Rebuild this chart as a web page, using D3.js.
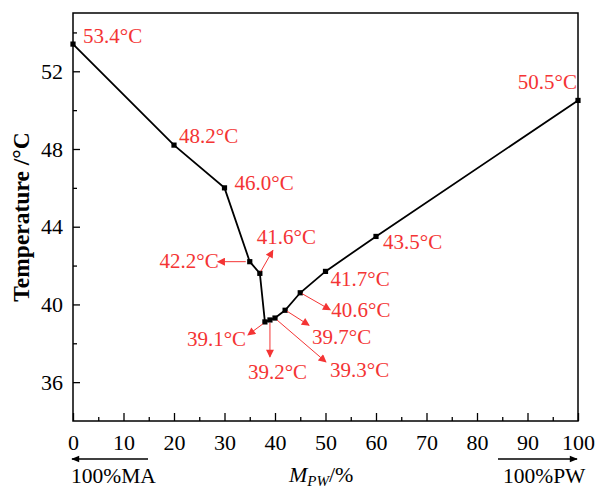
<!DOCTYPE html>
<html><head><meta charset="utf-8">
<script src="https://cdn.jsdelivr.net/npm/d3@7"></script>
<style>body{margin:0;background:#fff}svg{display:block}</style>
</head><body><svg id="c" width="598" height="490"></svg>
<script>
const mpw = [0, 20, 30, 35, 37, 38, 39, 40, 42, 45, 50, 60, 100];
const temp = [53.4, 48.2, 46.0, 42.2, 41.6, 39.1, 39.2, 39.3, 39.7, 40.6, 41.7, 43.5, 50.5];
const labels = ["53.4°C","48.2°C","46.0°C","42.2°C","41.6°C","39.1°C","39.2°C","39.3°C","39.7°C","40.6°C","41.7°C","43.5°C","50.5°C"];
const xTicks = [0,10,20,30,40,50,60,70,80,90,100];
const yTicks = [36,40,44,48,52];

// layout: text offset (dx,dy), anchor, optional arrow vector (ax,ay)
const lay = [
  {dx:10, dy:-1},
  {dx:5, dy:-2},
  {dx:10, dy:2},
  {dx:-31, dy:6, anchor:"end", a:[-4,0,-32,0]},
  {dx:-3, dy:-29, a:[1,-2,13,-23]},
  {dx:-78, dy:24, a:[-2,2,-17,13]},
  {dx:-22, dy:59, a:[0,3,0,37]},
  {dx:55, dy:59, a:[2,2,51,44]},
  {dx:27, dy:34, a:[2,1,24,15]},
  {dx:31, dy:24, a:[2,1,30,17]},
  {dx:5, dy:15},
  {dx:7, dy:13},
  {dx:-1, dy:-11, anchor:"end"}
];

const svg = d3.select("#c");
const L=73, R=578, T=13, B=421;
const x = d3.scaleLinear().domain([0,100]).range([L,R]);
const y = d3.scaleLinear().domain([34,55]).range([B,T]);
const font = "'Liberation Serif','Times New Roman',serif";
const red = "#f43434";

const defs = svg.append("defs");
defs.append("marker").attr("id","ah").attr("viewBox","0 0 10 10").attr("refX",9).attr("refY",5)
  .attr("markerWidth",9).attr("markerHeight",8).attr("markerUnits","userSpaceOnUse").attr("orient","auto")
  .append("path").attr("d","M0,0L10,5L0,10Z").attr("fill",red);
defs.append("marker").attr("id","ak").attr("viewBox","0 0 10 10").attr("refX",9).attr("refY",5)
  .attr("markerWidth",11).attr("markerHeight",8).attr("markerUnits","userSpaceOnUse").attr("orient","auto")
  .append("path").attr("d","M0,1L10,5L0,9Z").attr("fill","#000");

// frame
svg.append("rect").attr("x",L).attr("y",T).attr("width",R-L).attr("height",B-T)
  .attr("fill","none").attr("stroke","#000").attr("stroke-width",1.5);

// x axis
const xa = svg.append("g").attr("transform",`translate(0,${B})`)
  .call(d3.axisBottom(x).tickValues(xTicks).tickSizeInner(-8).tickSizeOuter(0).tickPadding(13));
xa.select(".domain").remove();
xa.selectAll("line").attr("stroke-width",1.3);
xa.selectAll("text").attr("font-family",font).attr("font-size",22).attr("fill","#000");
const xm = svg.append("g").attr("transform",`translate(0,${B})`)
  .call(d3.axisBottom(x).tickValues(d3.range(5,100,10)).tickSizeInner(-4).tickSizeOuter(0).tickFormat(""));
xm.select(".domain").remove();
xm.selectAll("line").attr("stroke-width",1.3);

// y axis
const ya = svg.append("g").attr("transform",`translate(${L},0)`)
  .call(d3.axisLeft(y).tickValues(yTicks).tickSizeInner(-7).tickSizeOuter(0).tickPadding(10));
ya.select(".domain").remove();
ya.selectAll("line").attr("stroke-width",1.3);
ya.selectAll("text").attr("font-family",font).attr("font-size",22).attr("fill","#000");
const ym = svg.append("g").attr("transform",`translate(${L},0)`)
  .call(d3.axisLeft(y).tickValues([38,42,46,50,54]).tickSizeInner(-4).tickSizeOuter(0).tickFormat(""));
ym.select(".domain").remove();
ym.selectAll("line").attr("stroke-width",1.3);

// line
const pts = mpw.map((d,i)=>[d,temp[i]]);
svg.append("path").datum(pts).attr("fill","none").attr("stroke","#000").attr("stroke-width",1.8)
  .attr("d", d3.line().x(d=>x(d[0])).y(d=>y(d[1])));
svg.selectAll("rect.m").data(pts).join("rect").attr("class","m")
  .attr("x",d=>x(d[0])-2.6).attr("y",d=>y(d[1])-2.6).attr("width",5.2).attr("height",5.2).attr("fill","#000");

// arrows and labels
pts.forEach((d,i)=>{
  const px=x(d[0]), py=y(d[1]), l=lay[i];
  if(l.a){
    svg.append("line").attr("x1",px+l.a[0]).attr("y1",py+l.a[1]).attr("x2",px+l.a[2]).attr("y2",py+l.a[3])
      .attr("stroke",red).attr("stroke-width",1).attr("marker-end","url(#ah)");
  }
  svg.append("text").attr("x",px+l.dx).attr("y",py+l.dy).attr("text-anchor",l.anchor||"start")
    .attr("font-family",font).attr("font-size",21).attr("fill",red).text(labels[i]);
});

// y label
svg.append("text").attr("transform","translate(29,217) rotate(-90)").attr("text-anchor","middle")
  .attr("font-family",font).attr("font-size",23.5).attr("font-weight","bold").text("Temperature /°C");

// x label
const xl = svg.append("text").attr("x",289).attr("y",482).attr("font-family",font).attr("font-size",22);
xl.append("tspan").attr("font-style","italic").text("M");
xl.append("tspan").attr("font-style","italic").attr("font-size",15).attr("dy",4).text("PW");
xl.append("tspan").attr("dy",-4).text("/%");

// direction arrows
svg.append("line").attr("x1",148).attr("y1",459).attr("x2",72).attr("y2",459)
  .attr("stroke","#000").attr("stroke-width",1.3).attr("marker-end","url(#ak)");
svg.append("line").attr("x1",498).attr("y1",459).attr("x2",577).attr("y2",459)
  .attr("stroke","#000").attr("stroke-width",1.3).attr("marker-end","url(#ak)");
svg.append("text").attr("x",71).attr("y",483).attr("font-family",font).attr("font-size",21.5).text("100%MA");
svg.append("text").attr("x",503).attr("y",483).attr("font-family",font).attr("font-size",21.5).text("100%PW");
</script></body></html>
